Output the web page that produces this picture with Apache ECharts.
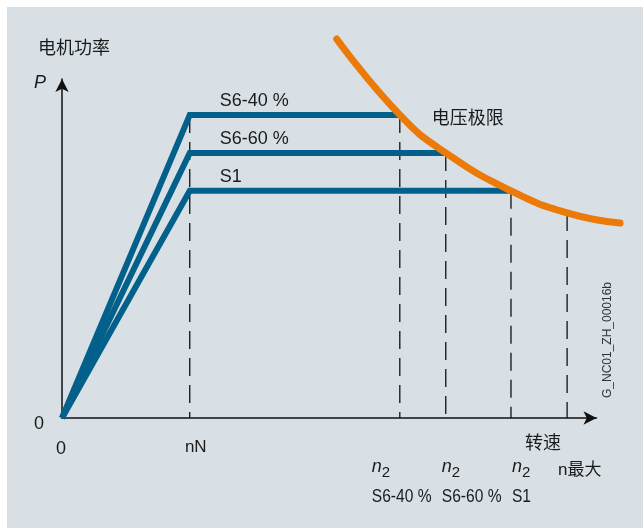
<!DOCTYPE html>
<html>
<head>
<meta charset="utf-8">
<script src="https://cdn.jsdelivr.net/npm/echarts@6/dist/echarts.min.js"></script>
<style>
html,body{margin:0;padding:0;background:#ffffff;}
#wrap{position:relative;width:643px;height:530px;background:#ffffff;overflow:hidden;}
#bg{position:absolute;left:7px;top:7px;width:636px;height:521px;background:#d8e0e5;}
#chart{position:absolute;left:0;top:0;width:643px;height:530px;}
</style>
</head>
<body>
<div id="wrap"><div id="bg"></div><div id="chart"></div></div>
<script>
// ---- data (speed and power in relative units, 0..100 of the axes) ----
const dutyNames = ['S6-40 %', 'S6-60 %', 'S1'];
const powerLevels = [89.4, 78.2, 67.0];     // constant-power level per duty type
const nN = 23.9;                              // rated speed
const n2Speeds = [63.2, 71.8, 84.0];          // n2 per duty type (voltage limit reached)
const nMax = 94.5;                            // maximum speed
const nMaxPower = 60.5;                       // voltage limit power at n max
const limitSpeed = [51.4, 63.2, 71.8, 84.0, 94.5, 104.4];
const limitPower = [111.8, 89.4, 78.2, 67.0, 60.5, 57.5];
const xTickLabels = ['0', 'nN'];
const yTickLabels = ['0'];

const FONT = "'Liberation Sans', Arial, 'Noto Sans CJK SC', sans-serif";
const BLUE = '#02608a';
const ORANGE = '#ec7a08';
const INK = '#1a1a1a';

// plot geometry
const G = { left: 62, top: 79, right: 46.5, bottom: 112 };
const W = 643, H = 530;
const pxPerX = (W - G.left - G.right) / 100;
const pxPerY = (H - G.top - G.bottom) / 100;
const extXMax = 106, extYMax = 115;   // wider hidden scale (same px/unit) for the overflowing limit curve

const series = [];
// dashed reference lines
const dashX = [nN].concat(n2Speeds).concat([nMax]);
const dashTop = [powerLevels[0]].concat(powerLevels).concat([nMaxPower]);
dashX.forEach((x, i) => {
  series.push({
    type: 'line', data: [[x, dashTop[i]], [x, 0]], symbol: 'none', silent: true, z: 1,
    lineStyle: { color: '#111', width: 1.3, type: [18, 9] }
  });
});
// duty type power curves
dutyNames.forEach((name, i) => {
  series.push({
    name: name, type: 'line', symbol: 'none', z: 3,
    data: [[0, 0], [nN, powerLevels[i]], [n2Speeds[i], powerLevels[i]]],
    lineStyle: { color: BLUE, width: 6, join: 'miter', cap: 'butt' }
  });
});
// voltage limit curve
series.push({
  name: '电压极限', type: 'line', symbol: 'none', smooth: 0.5, clip: false, z: 5,
  xAxisIndex: 1, yAxisIndex: 1,
  data: limitSpeed.map((s, i) => [s, limitPower[i]]),
  lineStyle: { color: ORANGE, width: 7, cap: 'round', join: 'round' }
});

const axisCommon = {
  type: 'value', min: 0, max: 100,
  axisLine: { show: true, symbol: ['none', 'arrow'], symbolSize: [10, 13], lineStyle: { color: '#111', width: 1.5 } },
  axisTick: { show: false }, axisLabel: { show: false }, splitLine: { show: false }
};
const hiddenAxis = { type: 'value', min: 0, show: false, splitLine: { show: false } };

const chart = echarts.init(document.getElementById('chart'), null, { renderer: 'canvas' });
chart.setOption({
  backgroundColor: 'transparent',
  animation: false,
  grid: [
    { left: G.left, top: G.top, right: G.right, bottom: G.bottom, containLabel: false, outerBoundsMode: 'none' },
    { left: G.left, bottom: G.bottom,
      right: W - G.left - extXMax * pxPerX,
      top: H - G.bottom - extYMax * pxPerY,
      containLabel: false, outerBoundsMode: 'none' }
  ],
  xAxis: [Object.assign({ gridIndex: 0 }, axisCommon), Object.assign({ gridIndex: 1, max: extXMax }, hiddenAxis)],
  yAxis: [Object.assign({ gridIndex: 0 }, axisCommon), Object.assign({ gridIndex: 1, max: extYMax }, hiddenAxis)],
  series: series
});

function px(x, y) { return chart.convertToPixel({ gridIndex: 0 }, [x, y]); }
function txt(text, x, y, opt) {
  opt = opt || {};
  return {
    type: 'text', x: x, y: y, rotation: opt.rotation || 0, scaleX: opt.scaleX || 1, z: 10, silent: true,
    style: {
      text: text, fill: opt.fill || INK,
      font: (opt.style || 'normal') + ' ' + (opt.size || 18) + 'px ' + (opt.family || FONT),
      align: opt.align || 'left', verticalAlign: opt.va || 'middle'
    }
  };
}

const O = px(0, 0);
const Ytop = px(0, 100);
const els = [];
els.push(txt('电机功率', O[0] - 24, Ytop[1] - 30));
els.push(txt('P', O[0] - 28, Ytop[1] + 4, { style: 'italic' }));
els.push(txt(yTickLabels[0], O[0] - 23, O[1] + 6, { align: 'center' }));
els.push(txt(xTickLabels[0], px(0, 0)[0] - 1, O[1] + 31, { align: 'center' }));
els.push(txt(xTickLabels[1], px(nN, 0)[0] + 6, O[1] + 29, { align: 'center', size: 17 }));
dutyNames.forEach((name, i) => {
  const p = px(nN, powerLevels[i]);
  els.push(txt(name, p[0] + 30, p[1] - 14));
});
const lp = px(n2Speeds[0], powerLevels[0]);
els.push(txt('电压极限', lp[0] + 32, lp[1] + 4));
els.push(txt('转速', px(nMax, 0)[0] - 42, O[1] + 26));
const labelShift = [-28, -4, 1];
n2Speeds.forEach((s, i) => {
  const x = px(s, 0)[0] + labelShift[i];
  els.push(txt('n', x, O[1] + 49, { style: 'italic' }));
  els.push(txt('2', x + 10, O[1] + 55, { size: 15 }));
  els.push(txt(dutyNames[i], x, O[1] + 79, { scaleX: 0.82, size: 19 }));
});
els.push(txt('n最大', px(nMax, 0)[0] - 9, O[1] + 52, { size: 17 }));
els.push(txt('G_NC01_ZH_00016b', 607.5, 340, { size: 12, align: 'center', rotation: Math.PI / 2, fill: '#333' }));

chart.setOption({ graphic: { elements: els } });
</script>
</body>
</html>
